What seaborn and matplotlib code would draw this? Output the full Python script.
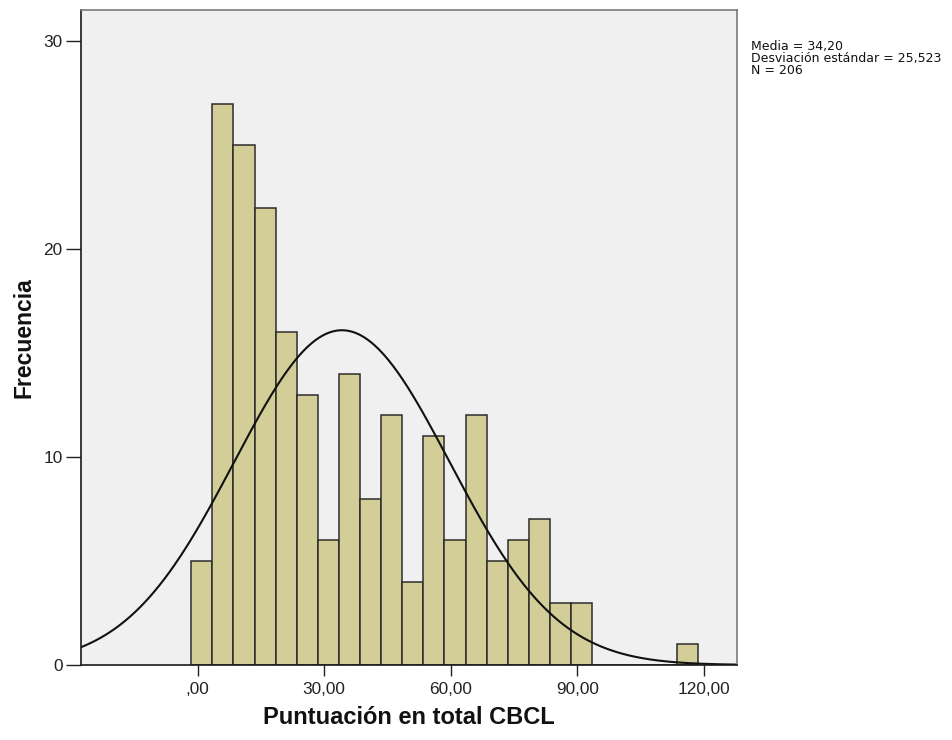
import numpy as np
import pandas as pd
import matplotlib
matplotlib.use("Agg")
import matplotlib.pyplot as plt
import seaborn as sns

# Histogram of total CBCL scores (bin width 5, first bin starting at -1.5)
bin_mids = [1, 6, 11, 16, 21, 26, 31, 36, 41, 46, 51, 56, 61, 66, 71, 76, 81, 86, 91, 116]
counts = [5, 27, 25, 22, 16, 13, 6, 14, 8, 12, 4, 11, 6, 12, 5, 6, 7, 3, 3, 1]
bin_width = 5
bin_start = -1.5
bin_stop = 118.5

# Summary statistics shown next to the chart
media = 34.20
desviacion = 25.523
n_total = 206

x_ticks = [0, 30, 60, 90, 120]
x_tick_labels = [",00", "30,00", "60,00", "90,00", "120,00"]
y_ticks = [0, 10, 20, 30]
y_tick_labels = ["0", "10", "20", "30"]

sns.set_theme(style="white")
plt.rcParams["font.family"] = ["Liberation Sans", "DejaVu Sans"]

fig = plt.figure(figsize=(9.52, 7.40), dpi=100)
ax = fig.add_axes([80.7 / 952, 1 - 665 / 740, (737.3 - 80.7) / 952, (665 - 10) / 740])
ax.set_facecolor("#f0f0f0")

df = pd.DataFrame({"puntuacion": bin_mids, "frecuencia": counts})
edges = [float(e) for e in np.arange(bin_start, bin_stop + bin_width / 2, bin_width)]
sns.histplot(data=df, x="puntuacion", weights="frecuencia", bins=edges, ax=ax,
             color="#d3ce97", alpha=1, edgecolor="#2b2b2b", linewidth=1.1)

# Normal curve scaled to the counts
xs = np.linspace(-27.7, 127.9, 400)
ys = n_total * bin_width / (desviacion * np.sqrt(2 * np.pi)) * np.exp(-0.5 * ((xs - media) / desviacion) ** 2)
sns.lineplot(x=xs, y=ys, ax=ax, color="#111111", linewidth=1.5)

ax.set_xlim(-27.7, 127.9)
ax.set_ylim(0, 31.5)
ax.set_xticks(x_ticks)
ax.set_xticklabels(x_tick_labels)
ax.set_yticks(y_ticks)
ax.set_yticklabels(y_tick_labels)
ax.tick_params(axis="x", direction="out", length=8, width=1, pad=4, labelsize=12.4,
               colors="#222222", bottom=True)
ax.tick_params(axis="y", direction="out", length=11, width=1, pad=2, labelsize=12.4,
               colors="#222222", left=True)

for side in ["left", "bottom"]:
    ax.spines[side].set_color("#1a1a1a")
    ax.spines[side].set_linewidth(1.2)
for side in ["top", "right"]:
    ax.spines[side].set_color("#7a7a7a")
    ax.spines[side].set_linewidth(1.2)

ax.set_xlabel("Puntuación en total CBCL", fontsize=17, fontweight="bold", labelpad=7, color="#111111")
ax.set_ylabel("Frecuencia", fontsize=16.5, fontweight="bold", labelpad=6, color="#111111")

stats_text = (f"Media = {media:.2f}".replace(".", ",") + "\n"
              + f"Desviación estándar = {desviacion:.3f}".replace(".", ",") + "\n"
              + f"N = {n_total}")
fig.text(750.7 / 952, 1 - 40 / 740, stats_text, ha="left", va="top",
         fontsize=9.0, family=["DejaVu Sans"], linespacing=0.9, color="#111111")

fig.savefig("out.png", dpi=100, facecolor="white")
